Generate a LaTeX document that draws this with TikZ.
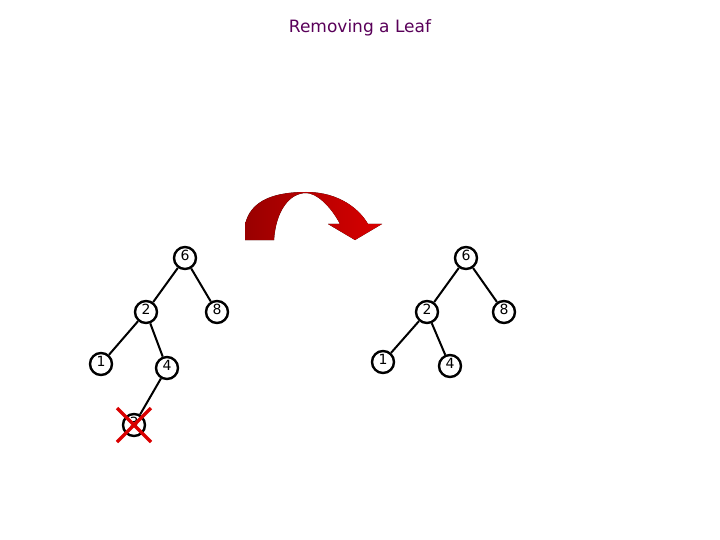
\documentclass[tikz,border=0pt]{standalone}
\usepackage{fontspec}
\setmainfont{DejaVu Sans}
\begin{document}
\begin{tikzpicture}[x=1pt,y=-1pt,
  nd/.style={circle,draw=black,line width=2.4pt,minimum size=22pt,inner sep=0pt,font=\fontsize{14}{14}\selectfont,text depth=6pt},
  ed/.style={line width=2pt}]
\useasboundingbox (0,0) rectangle (720,540);
\node[text=violet!70!black,font=\fontsize{17}{18}\selectfont] (title) at (360,28) {Removing a Leaf};
% arrow
\fill[left color=red!60!black,right color=red!85!black]
 (245,240) -- (245,225) .. controls (250,200) and (275,192) .. (306,192)
 .. controls (340,192) and (360,210) .. (368,224) -- (382,224) -- (355,240) -- (328,224) -- (340,224)
 .. controls (330,205) and (316,193) .. (306,193) .. controls (290,193) and (276,210) .. (274,240) -- cycle;
% left tree
\node[nd] (a6) at (185,258) {6};
\node[nd] (a2) at (146,312) {2};
\node[nd] (a8) at (217,312) {8};
\node[nd] (a1) at (101,364) {1};
\node[nd] (a4) at (167,368) {4};
\node[nd] (a3) at (134,425) {3};
\draw[ed] (a6)--(a2) (a6)--(a8) (a2)--(a1) (a2)--(a4) (a4)--(a3);
\draw[red!85!black,line width=3.5pt] ([shift={(-17,-17)}]a3.center) coordinate (x1) -- ([shift={(17,17)}]a3.center) coordinate (x2);
\draw[red!85!black,line width=3.5pt] ([shift={(17,-17)}]a3.center) coordinate (x3) -- ([shift={(-17,17)}]a3.center) coordinate (x4);
% right tree
\node[nd] (b6) at (466,258) {6};
\node[nd] (b2) at (427,312) {2};
\node[nd] (b8) at (504,312) {8};
\node[nd] (b1) at (383,362) {1};
\node[nd] (b4) at (450,366) {4};
\draw[ed] (b6)--(b2) (b6)--(b8) (b2)--(b1) (b2)--(b4);
\end{tikzpicture}
\end{document}
